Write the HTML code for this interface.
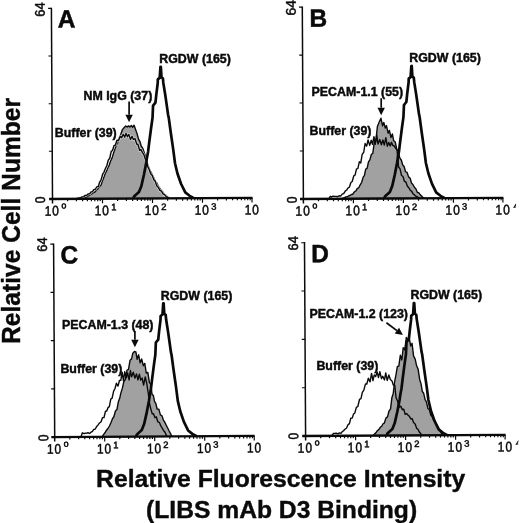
<!DOCTYPE html>
<html><head><meta charset="utf-8"><title>Figure</title>
<style>
html,body{margin:0;padding:0;background:#fff}
svg{display:block}
.bd{font-family:"Liberation Sans",Arial,Helvetica,sans-serif;font-weight:700;fill:#0a0a0a}
.tk{font-family:"Liberation Sans",Arial,Helvetica,sans-serif;font-weight:400;fill:#0a0a0a;stroke:#0a0a0a;stroke-width:0.5}
</style></head>
<body>
<svg width="520" height="523" viewBox="0 0 520 523">
<rect width="520" height="523" fill="#fff"/>
<g transform="rotate(-0.33 52.5 199.0)">
<path d="M77.5 199.0L79.0 198.9L80.4 198.7L81.9 198.6L83.5 198.3L85.0 197.4L86.5 197.3L87.9 196.2L89.4 195.6L91.1 194.3L92.4 193.8L93.6 192.8L94.9 192.3L96.5 190.3L97.9 189.2L99.3 186.9L100.9 185.8L102.3 181.9L103.9 177.9L105.3 173.9L106.5 171.7L108.0 168.0L109.3 165.7L110.6 161.8L112.3 158.2L113.7 153.7L115.3 149.2L116.7 144.9L118.0 143.1L119.5 138.4L121.2 134.7L122.8 130.0L124.4 128.1L126.1 126.5L127.6 127.4L128.9 126.3L130.3 127.4L131.7 126.0L133.2 127.7L134.5 125.7L135.8 129.5L137.4 134.1L139.0 139.9L140.3 142.2L141.6 146.7L143.1 148.9L144.4 152.7L145.7 156.6L147.2 162.7L148.5 166.5L149.9 170.4L151.3 172.9L152.7 176.0L154.2 178.8L155.4 182.0L157.1 183.9L158.3 186.8L159.8 188.8L161.1 191.0L162.7 192.4L164.2 194.8L165.8 195.8L167.2 197.5L168.7 198.6L169.2 199.0Z" fill="#a1a1a1" stroke="#0a0a0a" stroke-width="1.4" stroke-linejoin="round"/>
<path d="M75.0 199.0L76.5 198.7L77.8 198.4L79.3 198.0L80.7 197.9L82.2 197.1L83.7 196.8L85.3 195.6L86.6 195.6L88.1 194.2L89.7 194.1L91.1 192.1L92.4 192.1L93.9 189.8L95.4 189.5L96.9 187.1L98.4 186.7L99.8 182.3L101.2 180.1L102.8 174.5L104.1 172.6L105.6 168.8L107.0 166.1L108.5 160.5L110.0 158.6L111.5 151.7L112.8 150.8L114.3 146.1L115.7 145.4L117.3 140.6L118.9 141.0L120.6 136.7L122.0 138.2L123.6 134.7L125.1 137.6L126.4 133.7L127.8 137.2L129.2 134.8L130.8 140.0L132.4 136.8L133.7 139.9L135.4 139.2L137.0 144.5L138.3 145.0L139.9 150.8L141.2 150.0L142.6 152.9L144.1 155.0L145.5 159.7L146.8 161.4L148.0 167.4L149.3 169.8L150.8 174.3L152.4 176.0L154.0 180.6L155.2 181.5L156.8 186.3L158.5 188.0L159.9 191.1L161.5 191.8L163.0 194.6L164.5 195.3L166.2 197.3L167.8 197.9L169.0 199.0" fill="none" stroke="#eeeeee" stroke-width="2.6" stroke-linejoin="round" opacity="0.8"/>
<path d="M75.0 199.0L76.5 198.7L77.8 198.4L79.3 198.0L80.7 197.9L82.2 197.1L83.7 196.8L85.3 195.6L86.6 195.6L88.1 194.2L89.7 194.1L91.1 192.1L92.4 192.1L93.9 189.8L95.4 189.5L96.9 187.1L98.4 186.7L99.8 182.3L101.2 180.1L102.8 174.5L104.1 172.6L105.6 168.8L107.0 166.1L108.5 160.5L110.0 158.6L111.5 151.7L112.8 150.8L114.3 146.1L115.7 145.4L117.3 140.6L118.9 141.0L120.6 136.7L122.0 138.2L123.6 134.7L125.1 137.6L126.4 133.7L127.8 137.2L129.2 134.8L130.8 140.0L132.4 136.8L133.7 139.9L135.4 139.2L137.0 144.5L138.3 145.0L139.9 150.8L141.2 150.0L142.6 152.9L144.1 155.0L145.5 159.7L146.8 161.4L148.0 167.4L149.3 169.8L150.8 174.3L152.4 176.0L154.0 180.6L155.2 181.5L156.8 186.3L158.5 188.0L159.9 191.1L161.5 191.8L163.0 194.6L164.5 195.3L166.2 197.3L167.8 197.9L169.0 199.0" fill="none" stroke="#0a0a0a" stroke-width="1.4" stroke-linejoin="round"/>
<path d="M133.5 199.0L134.0 197.0L139.0 192.5L141.4 186.7L144.1 175.1L146.4 163.5L147.2 158.2L148.4 152.0L149.6 142.5L151.4 129.3L153.0 118.3L153.6 106.2L156.0 103.3L156.9 95.2L158.4 83.6L158.5 80.0L160.4 78.5L161.2 67.5L161.6 67.5L162.2 78.0L163.6 79.0L164.0 83.6L165.8 95.2L167.4 106.8L168.6 115.7L169.2 118.3L171.1 132.9L173.5 150.1L175.2 163.9L177.6 174.2L181.1 184.5L185.3 193.2L189.6 196.6L193.9 199.0" fill="none" stroke="#0a0a0a" stroke-width="2.7" stroke-linejoin="round"/>
<path d="M52.5 7.800000000000001V203.4" stroke="#0a0a0a" stroke-width="1.5" fill="none"/>
<path d="M49.1 199.0H252.5" stroke="#0a0a0a" stroke-width="2.3" fill="none"/>
<path d="M49.2 8.4H52.5" stroke="#0a0a0a" stroke-width="1.1" fill="none"/>
<path d="M49.2 56.0H52.5" stroke="#0a0a0a" stroke-width="1.1" fill="none"/>
<path d="M49.2 103.7H52.5" stroke="#0a0a0a" stroke-width="1.1" fill="none"/>
<path d="M49.2 151.3H52.5" stroke="#0a0a0a" stroke-width="1.1" fill="none"/>
<path d="M67.6 199.0v2.4M76.4 199.0v2.4M82.6 199.0v2.4M87.4 199.0v2.4M91.4 199.0v2.4M94.8 199.0v2.4M97.7 199.0v2.4M100.2 199.0v2.4M102.5 199.0v4.6M117.6 199.0v2.4M126.4 199.0v2.4M132.6 199.0v2.4M137.4 199.0v2.4M141.4 199.0v2.4M144.8 199.0v2.4M147.7 199.0v2.4M150.2 199.0v2.4M152.5 199.0v4.6M167.6 199.0v2.4M176.4 199.0v2.4M182.6 199.0v2.4M187.4 199.0v2.4M191.4 199.0v2.4M194.8 199.0v2.4M197.7 199.0v2.4M200.2 199.0v2.4M202.5 199.0v4.6M217.6 199.0v2.4M226.4 199.0v2.4M232.6 199.0v2.4M237.4 199.0v2.4M241.4 199.0v2.4M244.8 199.0v2.4M247.7 199.0v2.4M250.2 199.0v2.4M252.0 199.0v4.6" stroke="#0a0a0a" stroke-width="1.2" fill="none"/>
<text class="tk" transform="translate(45.9 16.8) rotate(-90) scale(0.93 1)" font-size="14">64</text>
<text class="tk" transform="translate(45.1 203.2) rotate(-90) scale(0.86 1)" font-size="14">0</text>
<text class="tk" transform="translate(44.6 215.6) scale(0.86 1)" font-size="13.8" letter-spacing="1.2">10</text>
<text class="tk" transform="translate(61.5 208.6) scale(1.2 1)" font-size="7.2">0</text>
<text class="tk" transform="translate(94.6 215.6) scale(0.86 1)" font-size="13.8" letter-spacing="1.2">10</text>
<text class="tk" x="111.1" y="210.6" font-size="9.4">1</text>
<text class="tk" transform="translate(144.6 215.6) scale(0.86 1)" font-size="13.8" letter-spacing="1.2">10</text>
<text class="tk" x="161.1" y="210.6" font-size="9.4">2</text>
<text class="tk" transform="translate(194.6 215.6) scale(0.86 1)" font-size="13.8" letter-spacing="1.2">10</text>
<text class="tk" x="211.1" y="210.6" font-size="9.4">3</text>
<text class="tk" transform="translate(244.6 215.6) scale(0.86 1)" font-size="13.8" letter-spacing="1.2">10</text>
<text class="bd" transform="translate(58.7 27.5) scale(0.98 1)" font-size="25" stroke="#0a0a0a" stroke-width="0.5">A</text>
</g>
<g transform="rotate(-0.33 303.4 199.0)">
<path d="M341.5 199.0L343.0 198.4L344.6 197.9L345.9 197.1L347.3 197.0L348.8 196.0L350.0 195.8L351.4 194.8L352.8 194.5L354.3 192.3L356.0 191.1L357.4 188.7L358.8 188.1L360.3 185.1L361.8 182.6L363.3 177.5L364.5 176.0L365.9 169.4L367.3 168.8L368.7 162.2L370.1 160.3L371.6 154.9L373.1 153.6L374.8 141.4L376.1 142.2L377.8 127.0L379.9 121.9L381.4 118.7L383.0 126.3L384.2 122.9L385.7 128.5L386.9 126.1L388.5 133.7L389.8 130.9L391.3 138.0L392.7 134.5L394.0 141.2L395.6 142.6L397.1 150.3L398.5 151.5L400.0 158.5L401.6 160.8L402.9 165.6L404.3 167.1L405.7 172.3L407.2 172.9L408.7 177.5L410.3 178.9L411.6 183.7L413.0 185.1L414.5 187.9L415.9 189.5L417.3 192.9L418.9 193.6L420.5 195.8L421.8 196.8L423.2 198.3L423.9 199.0Z" fill="#a1a1a1" stroke="#0a0a0a" stroke-width="1.4" stroke-linejoin="round"/>
<path d="M328.8 199.0L330.3 196.5L331.5 197.2L332.9 196.3L334.5 196.6L336.2 196.6L337.5 196.9L339.1 196.0L340.6 196.3L342.2 194.3L343.7 193.9L345.3 191.3L346.7 190.3L348.0 188.3L349.4 187.5L351.0 182.8L352.3 181.8L353.9 176.2L355.2 175.5L356.7 169.2L358.0 168.9L359.6 162.0L361.0 163.3L362.4 154.7L364.0 152.6L365.4 143.9L367.0 146.4L368.4 140.4L370.0 145.8L371.6 140.7L372.8 144.8L374.3 137.0L375.5 144.8L377.1 135.6L378.4 144.5L380.1 140.0L381.7 145.2L383.2 140.5L384.6 145.6L386.2 138.2L387.6 146.7L389.1 143.0L390.5 146.5L391.8 142.8L393.1 145.9L394.4 146.5L395.8 148.5L397.3 150.3L398.7 167.3L400.2 169.4L401.7 176.1L403.1 177.1L404.6 182.0L406.0 182.6L407.4 186.6L409.0 188.6L410.3 190.8L411.8 192.0L413.0 194.3L414.4 195.5L415.7 196.8L417.0 197.1L418.4 198.2L419.7 199.0" fill="none" stroke="#0a0a0a" stroke-width="1.4" stroke-linejoin="round"/>
<path d="M384.4 199.0L384.9 197.0L389.9 192.5L392.3 186.6L395.0 174.9L397.3 163.3L398.1 157.9L399.3 151.7L400.5 142.1L402.3 128.8L403.9 117.7L404.5 105.6L406.9 102.6L407.8 94.5L409.3 82.8L409.4 79.2L411.3 77.7L412.1 66.6L412.5 66.6L413.1 77.2L414.5 78.2L414.9 82.8L416.7 94.5L418.3 106.2L419.5 115.1L420.1 117.7L422.0 132.4L424.4 149.8L426.1 163.7L428.5 174.0L432.0 184.4L436.2 193.2L440.5 196.6L444.8 199.0" fill="none" stroke="#0a0a0a" stroke-width="2.7" stroke-linejoin="round"/>
<path d="M303.4 6.5V203.4" stroke="#0a0a0a" stroke-width="1.5" fill="none"/>
<path d="M300.0 199.0H503.4" stroke="#0a0a0a" stroke-width="2.3" fill="none"/>
<path d="M300.09999999999997 7.1H303.4" stroke="#0a0a0a" stroke-width="1.1" fill="none"/>
<path d="M300.09999999999997 55.1H303.4" stroke="#0a0a0a" stroke-width="1.1" fill="none"/>
<path d="M300.09999999999997 103.0H303.4" stroke="#0a0a0a" stroke-width="1.1" fill="none"/>
<path d="M300.09999999999997 151.0H303.4" stroke="#0a0a0a" stroke-width="1.1" fill="none"/>
<path d="M318.5 199.0v2.4M327.3 199.0v2.4M333.5 199.0v2.4M338.3 199.0v2.4M342.3 199.0v2.4M345.7 199.0v2.4M348.6 199.0v2.4M351.1 199.0v2.4M353.4 199.0v4.6M368.5 199.0v2.4M377.3 199.0v2.4M383.5 199.0v2.4M388.3 199.0v2.4M392.3 199.0v2.4M395.7 199.0v2.4M398.6 199.0v2.4M401.1 199.0v2.4M403.4 199.0v4.6M418.5 199.0v2.4M427.3 199.0v2.4M433.5 199.0v2.4M438.3 199.0v2.4M442.3 199.0v2.4M445.7 199.0v2.4M448.6 199.0v2.4M451.1 199.0v2.4M453.4 199.0v4.6M468.5 199.0v2.4M477.3 199.0v2.4M483.5 199.0v2.4M488.3 199.0v2.4M492.3 199.0v2.4M495.7 199.0v2.4M498.6 199.0v2.4M501.1 199.0v2.4M502.9 199.0v4.6" stroke="#0a0a0a" stroke-width="1.2" fill="none"/>
<text class="tk" transform="translate(296.8 15.5) rotate(-90) scale(1.0 1)" font-size="14">64</text>
<text class="tk" transform="translate(296.8 203.3) rotate(-90) scale(0.86 1)" font-size="14">0</text>
<text class="tk" transform="translate(295.5 215.6) scale(0.86 1)" font-size="13.8" letter-spacing="1.2">10</text>
<text class="tk" transform="translate(312.4 208.6) scale(1.2 1)" font-size="7.2">0</text>
<text class="tk" transform="translate(345.5 215.6) scale(0.86 1)" font-size="13.8" letter-spacing="1.2">10</text>
<text class="tk" x="362.0" y="210.6" font-size="9.4">1</text>
<text class="tk" transform="translate(395.5 215.6) scale(0.86 1)" font-size="13.8" letter-spacing="1.2">10</text>
<text class="tk" x="412.0" y="210.6" font-size="9.4">2</text>
<text class="tk" transform="translate(445.5 215.6) scale(0.86 1)" font-size="13.8" letter-spacing="1.2">10</text>
<text class="tk" x="462.0" y="210.6" font-size="9.4">3</text>
<text class="tk" transform="translate(495.5 215.6) scale(0.86 1)" font-size="13.8" letter-spacing="1.2">10</text>
<svg x="513.0" y="203.6" width="3.0" height="5.4" overflow="hidden"><text class="tk" x="0.2" y="7.6" font-size="10.5">4</text></svg>
<text class="bd" transform="translate(310.5 26.7) scale(0.98 1)" font-size="25" stroke="#0a0a0a" stroke-width="0.5">B</text>
</g>
<g transform="rotate(-0.33 54.7 437.1)">
<path d="M102.1 437.1L103.5 434.9L105.0 433.1L106.5 430.5L108.0 428.8L109.5 426.3L111.0 423.0L112.7 418.8L114.0 417.1L115.6 411.4L117.1 409.9L118.6 402.0L119.9 398.7L121.1 393.5L122.6 388.8L124.2 381.8L125.7 379.9L127.4 370.5L128.9 369.9L130.5 360.6L132.0 359.3L133.3 353.6L134.9 352.0L136.4 352.5L137.6 359.8L139.1 355.3L140.6 363.3L142.1 359.5L143.7 366.2L145.2 363.9L146.6 373.5L148.2 373.0L149.7 383.0L151.1 384.9L152.3 394.8L153.6 396.1L154.8 402.2L156.0 404.0L157.3 409.6L159.0 409.7L160.6 415.7L161.9 416.0L163.5 420.7L164.7 422.5L166.0 425.3L167.6 428.4L169.2 431.7L170.7 434.6L171.9 437.1Z" fill="#a1a1a1" stroke="#0a0a0a" stroke-width="1.4" stroke-linejoin="round"/>
<path d="M80.9 437.1L82.4 433.0L84.0 433.8L85.3 433.4L86.6 433.3L88.1 432.9L89.6 433.7L91.2 432.3L92.5 431.5L93.8 429.6L95.1 429.5L96.7 426.8L98.0 425.4L99.6 423.2L101.2 422.0L102.6 417.9L104.1 417.8L105.6 411.6L106.9 411.4L108.2 407.9L109.5 407.0L111.0 399.4L112.3 398.6L113.9 391.4L115.4 388.6L116.7 383.6L118.3 386.4L119.8 380.9L121.2 380.6L122.5 372.6L123.8 381.4L125.1 372.0L126.6 378.3L128.0 373.4L129.4 380.4L130.8 371.0L132.0 377.3L133.7 372.7L135.2 378.6L136.8 374.4L138.3 380.4L139.7 374.7L141.0 380.5L142.5 378.6L143.9 385.6L145.6 377.4L147.1 384.2L148.6 394.3L149.9 405.3L151.1 409.9L152.4 414.4L153.6 414.3L155.1 418.4L156.4 417.4L157.9 422.4L159.4 422.9L160.9 426.5L162.2 428.7L163.7 431.3L164.9 432.6L166.5 436.3L167.4 437.1" fill="none" stroke="#0a0a0a" stroke-width="1.4" stroke-linejoin="round"/>
<path d="M136.3 437.1L136.8 435.1L141.8 430.5L144.2 424.6L146.9 412.9L149.2 401.2L150.0 395.8L151.2 389.5L152.4 379.9L154.2 366.5L155.8 355.4L156.4 343.1L158.8 340.2L159.7 332.0L161.2 320.2L161.3 316.6L163.2 315.1L164.0 303.9L164.4 303.9L165.0 314.6L166.4 315.6L166.8 320.2L168.6 332.0L170.2 343.7L171.4 352.8L172.0 355.4L173.9 370.2L176.3 387.6L178.0 401.6L180.4 412.0L183.9 422.4L188.1 431.2L192.4 434.7L196.7 437.1" fill="none" stroke="#0a0a0a" stroke-width="2.7" stroke-linejoin="round"/>
<path d="M54.7 243.5V441.5" stroke="#0a0a0a" stroke-width="1.5" fill="none"/>
<path d="M51.300000000000004 437.1H254.7" stroke="#0a0a0a" stroke-width="2.3" fill="none"/>
<path d="M51.400000000000006 244.1H54.7" stroke="#0a0a0a" stroke-width="1.1" fill="none"/>
<path d="M51.400000000000006 292.4H54.7" stroke="#0a0a0a" stroke-width="1.1" fill="none"/>
<path d="M51.400000000000006 340.6H54.7" stroke="#0a0a0a" stroke-width="1.1" fill="none"/>
<path d="M51.400000000000006 388.9H54.7" stroke="#0a0a0a" stroke-width="1.1" fill="none"/>
<path d="M69.8 437.1v2.4M78.6 437.1v2.4M84.8 437.1v2.4M89.6 437.1v2.4M93.6 437.1v2.4M97.0 437.1v2.4M99.9 437.1v2.4M102.4 437.1v2.4M104.7 437.1v4.6M119.8 437.1v2.4M128.6 437.1v2.4M134.8 437.1v2.4M139.6 437.1v2.4M143.6 437.1v2.4M147.0 437.1v2.4M149.9 437.1v2.4M152.4 437.1v2.4M154.7 437.1v4.6M169.8 437.1v2.4M178.6 437.1v2.4M184.8 437.1v2.4M189.6 437.1v2.4M193.6 437.1v2.4M197.0 437.1v2.4M199.9 437.1v2.4M202.4 437.1v2.4M204.7 437.1v4.6M219.8 437.1v2.4M228.6 437.1v2.4M234.8 437.1v2.4M239.6 437.1v2.4M243.6 437.1v2.4M247.0 437.1v2.4M249.9 437.1v2.4M252.4 437.1v2.4M254.2 437.1v4.6" stroke="#0a0a0a" stroke-width="1.2" fill="none"/>
<text class="tk" transform="translate(48.1 251.6) rotate(-90) scale(0.93 1)" font-size="14">64</text>
<text class="tk" transform="translate(48.3 441.1) rotate(-90) scale(0.86 1)" font-size="14">0</text>
<text class="tk" transform="translate(46.8 453.7) scale(0.86 1)" font-size="13.8" letter-spacing="1.2">10</text>
<text class="tk" transform="translate(63.7 446.7) scale(1.2 1)" font-size="7.2">0</text>
<text class="tk" transform="translate(96.8 453.7) scale(0.86 1)" font-size="13.8" letter-spacing="1.2">10</text>
<text class="tk" x="113.3" y="448.7" font-size="9.4">1</text>
<text class="tk" transform="translate(146.8 453.7) scale(0.86 1)" font-size="13.8" letter-spacing="1.2">10</text>
<text class="tk" x="163.3" y="448.7" font-size="9.4">2</text>
<text class="tk" transform="translate(196.8 453.7) scale(0.86 1)" font-size="13.8" letter-spacing="1.2">10</text>
<text class="tk" x="213.3" y="448.7" font-size="9.4">3</text>
<text class="tk" transform="translate(246.8 453.7) scale(0.86 1)" font-size="13.8" letter-spacing="1.2">10</text>
<text class="bd" transform="translate(61.4 263.5) scale(0.98 1)" font-size="25" stroke="#0a0a0a" stroke-width="0.5">C</text>
</g>
<g transform="rotate(-0.33 305.6 436.0)">
<path d="M373.1 436.0L374.6 434.3L375.9 433.3L377.4 431.1L379.0 429.8L380.5 427.5L381.8 426.7L383.1 424.2L384.4 423.5L386.0 418.6L387.6 417.4L389.1 411.7L390.7 409.4L392.1 398.2L393.5 393.9L394.9 382.3L396.3 375.5L397.8 367.0L399.2 366.6L400.8 355.8L402.3 360.5L403.7 348.3L405.3 350.3L406.9 338.0L408.3 340.3L409.8 338.9L411.2 346.6L412.6 343.9L414.0 356.5L415.6 359.8L417.1 366.7L418.5 369.8L420.0 380.1L421.3 384.3L422.6 392.2L423.9 393.9L425.3 400.4L426.6 402.6L428.1 409.2L429.7 410.7L430.9 415.7L432.4 417.6L433.7 421.0L435.0 421.9L436.3 425.0L437.9 427.4L439.5 430.6L441.1 433.3L442.4 436.0Z" fill="#a1a1a1" stroke="#0a0a0a" stroke-width="1.4" stroke-linejoin="round"/>
<path d="M331.9 436.0L333.4 433.5L334.9 433.5L336.2 433.3L337.9 434.1L339.4 433.1L341.0 433.6L342.3 431.9L343.6 431.0L344.9 429.5L346.5 428.5L348.2 424.8L349.5 423.9L350.9 418.4L352.3 418.4L353.7 414.3L355.0 413.2L356.5 407.7L358.0 406.8L359.7 399.8L361.2 399.0L362.6 392.6L364.1 390.4L365.8 384.2L367.1 384.4L368.7 378.6L370.4 382.2L371.9 373.8L373.3 381.1L374.6 375.3L376.0 377.0L377.5 372.3L378.8 377.9L380.2 372.2L381.8 379.0L383.1 376.7L384.8 380.4L386.1 373.3L387.5 380.9L389.2 375.5L390.7 379.9L392.3 381.4L393.6 385.5L395.1 386.0L396.3 398.3L397.8 401.5L399.3 407.7L400.9 406.7L402.5 410.3L403.9 409.7L405.3 414.9L406.7 414.1L408.0 415.6L409.4 416.8L410.9 419.6L412.2 419.2L413.6 423.2L415.2 424.6L416.7 429.0L418.0 429.9L419.3 432.7L420.9 434.5L421.6 436.0" fill="none" stroke="#0a0a0a" stroke-width="1.4" stroke-linejoin="round"/>
<path d="M386.9 436.0L387.4 434.0L392.4 429.5L394.8 423.6L397.5 412.0L399.8 400.3L400.6 395.0L401.8 388.8L403.0 379.2L404.8 366.0L406.4 354.9L407.0 342.7L409.4 339.8L410.3 331.7L411.8 320.0L411.9 316.4L413.8 314.9L414.6 303.8L415.0 303.8L415.6 314.4L417.0 315.4L417.4 320.0L419.2 331.7L420.8 343.3L422.0 352.3L422.6 354.9L424.5 369.6L426.9 386.9L428.6 400.7L431.0 411.1L434.5 421.4L438.7 430.2L443.0 433.6L447.3 436.0" fill="none" stroke="#0a0a0a" stroke-width="2.7" stroke-linejoin="round"/>
<path d="M305.6 242.1V440.4" stroke="#0a0a0a" stroke-width="1.5" fill="none"/>
<path d="M302.20000000000005 436.0H505.6" stroke="#0a0a0a" stroke-width="2.3" fill="none"/>
<path d="M302.3 242.7H305.6" stroke="#0a0a0a" stroke-width="1.1" fill="none"/>
<path d="M302.3 291.0H305.6" stroke="#0a0a0a" stroke-width="1.1" fill="none"/>
<path d="M302.3 339.4H305.6" stroke="#0a0a0a" stroke-width="1.1" fill="none"/>
<path d="M302.3 387.7H305.6" stroke="#0a0a0a" stroke-width="1.1" fill="none"/>
<path d="M320.7 436.0v2.4M329.5 436.0v2.4M335.7 436.0v2.4M340.5 436.0v2.4M344.5 436.0v2.4M347.9 436.0v2.4M350.8 436.0v2.4M353.3 436.0v2.4M355.6 436.0v4.6M370.7 436.0v2.4M379.5 436.0v2.4M385.7 436.0v2.4M390.5 436.0v2.4M394.5 436.0v2.4M397.9 436.0v2.4M400.8 436.0v2.4M403.3 436.0v2.4M405.6 436.0v4.6M420.7 436.0v2.4M429.5 436.0v2.4M435.7 436.0v2.4M440.5 436.0v2.4M444.5 436.0v2.4M447.9 436.0v2.4M450.8 436.0v2.4M453.3 436.0v2.4M455.6 436.0v4.6M470.7 436.0v2.4M479.5 436.0v2.4M485.7 436.0v2.4M490.5 436.0v2.4M494.5 436.0v2.4M497.9 436.0v2.4M500.8 436.0v2.4M503.3 436.0v2.4M505.1 436.0v4.6" stroke="#0a0a0a" stroke-width="1.2" fill="none"/>
<text class="tk" transform="translate(299.0 250.5) rotate(-90) scale(0.93 1)" font-size="14">64</text>
<text class="tk" transform="translate(298.2 439.4) rotate(-90) scale(0.86 1)" font-size="14">0</text>
<text class="tk" transform="translate(297.7 452.6) scale(0.86 1)" font-size="13.8" letter-spacing="1.2">10</text>
<text class="tk" transform="translate(314.6 445.6) scale(1.2 1)" font-size="7.2">0</text>
<text class="tk" transform="translate(347.7 452.6) scale(0.86 1)" font-size="13.8" letter-spacing="1.2">10</text>
<text class="tk" x="364.2" y="447.6" font-size="9.4">1</text>
<text class="tk" transform="translate(397.7 452.6) scale(0.86 1)" font-size="13.8" letter-spacing="1.2">10</text>
<text class="tk" x="414.2" y="447.6" font-size="9.4">2</text>
<text class="tk" transform="translate(447.7 452.6) scale(0.86 1)" font-size="13.8" letter-spacing="1.2">10</text>
<text class="tk" x="464.2" y="447.6" font-size="9.4">3</text>
<text class="tk" transform="translate(497.7 452.6) scale(0.86 1)" font-size="13.8" letter-spacing="1.2">10</text>
<svg x="515.2" y="440.6" width="3.0" height="5.4" overflow="hidden"><text class="tk" x="0.2" y="7.6" font-size="10.5">4</text></svg>
<text class="bd" transform="translate(312.2 262.2) scale(0.98 1)" font-size="25" stroke="#0a0a0a" stroke-width="0.5">D</text>
</g>
<text class="bd" x="159.3" y="62.9" font-size="12.38" stroke="#0a0a0a" stroke-width="0.45">RGDW (165)</text>
<text class="bd" x="83.5" y="100.3" font-size="12.38" stroke="#0a0a0a" stroke-width="0.45">NM IgG (37)</text>
<text class="bd" x="54.8" y="136.7" font-size="12.38" stroke="#0a0a0a" stroke-width="0.45">Buffer (39)</text>
<text class="bd" x="409.3" y="61.5" font-size="12.38" stroke="#0a0a0a" stroke-width="0.45">RGDW (165)</text>
<text class="bd" x="311.6" y="96.1" font-size="12.38" stroke="#0a0a0a" stroke-width="0.45">PECAM-1.1 (55)</text>
<text class="bd" x="309.6" y="134.6" font-size="12.38" stroke="#0a0a0a" stroke-width="0.45">Buffer (39)</text>
<text class="bd" x="160.8" y="299.7" font-size="12.38" stroke="#0a0a0a" stroke-width="0.45">RGDW (165)</text>
<text class="bd" x="62" y="328.6" font-size="12.38" stroke="#0a0a0a" stroke-width="0.45">PECAM-1.3 (48)</text>
<text class="bd" x="60.4" y="372.6" font-size="12.38" stroke="#0a0a0a" stroke-width="0.45">Buffer (39)</text>
<text class="bd" x="410.5" y="299.3" font-size="12.38" stroke="#0a0a0a" stroke-width="0.45">RGDW (165)</text>
<text class="bd" x="309.6" y="318.4" font-size="12.38" stroke="#0a0a0a" stroke-width="0.45">PECAM-1.2 (123)</text>
<text class="bd" x="316.4" y="369.9" font-size="12.38" stroke="#0a0a0a" stroke-width="0.45">Buffer (39)</text>
<path d="M129.1 101.6L129.1 114.8" stroke="#0a0a0a" stroke-width="1.7" fill="none"/><path d="M129.1 122.3L125.4 114.8L132.8 114.8Z" fill="#0a0a0a"/>
<path d="M381.2 98.2L381.2 107.7" stroke="#0a0a0a" stroke-width="1.7" fill="none"/><path d="M381.2 115.2L377.5 107.7L384.9 107.7Z" fill="#0a0a0a"/>
<path d="M134.9 331.5L134.9 339.7" stroke="#0a0a0a" stroke-width="1.7" fill="none"/><path d="M134.9 347.2L131.2 339.7L138.6 339.7Z" fill="#0a0a0a"/>
<path d="M386.4 322.8L396.9 330.6" stroke="#0a0a0a" stroke-width="1.7" fill="none"/><path d="M402.9 335.1L394.7 333.6L399.1 327.7Z" fill="#0a0a0a"/>
<text class="bd" font-size="24.6" stroke="#0a0a0a" stroke-width="0.4" transform="translate(20.0 344.0) rotate(-90) scale(1 1.03)">Relative Cell Number</text>
<text class="bd" font-size="24.7" stroke="#0a0a0a" stroke-width="0.4" x="96.1" y="487.3">Relative Fluorescence Intensity</text>
<text class="bd" font-size="24.65" stroke="#0a0a0a" stroke-width="0.4" x="146.1" y="517.8">(LIBS mAb D3 Binding)</text>
</svg>
</body></html>
